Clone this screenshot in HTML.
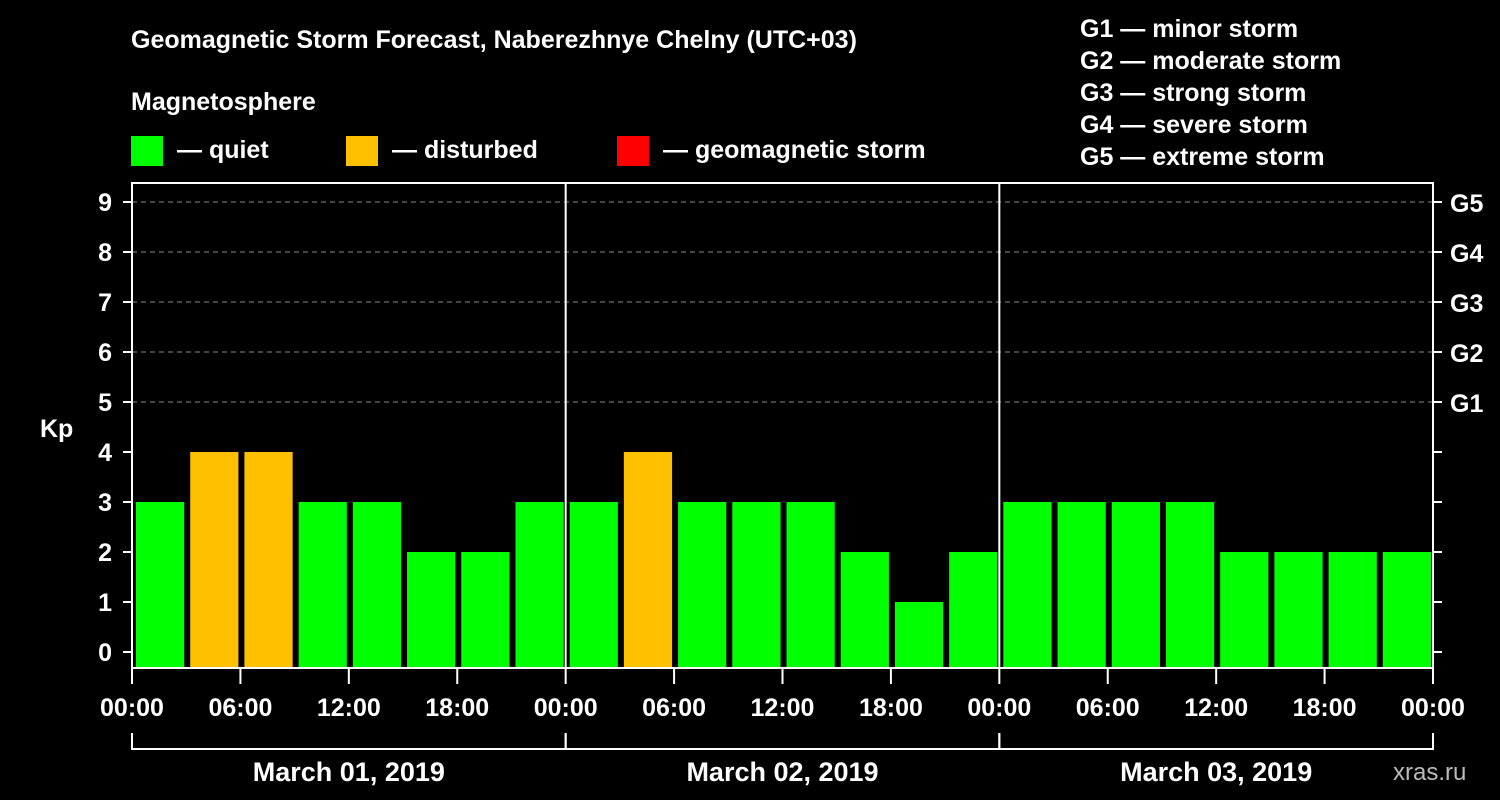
<!DOCTYPE html>
<html><head><meta charset="utf-8"><style>
html,body{margin:0;padding:0;background:#000;}
svg{display:block;font-family:"Liberation Sans",Arial,sans-serif;font-weight:bold;}
</style></head><body>
<svg id="chart" width="1500" height="800" viewBox="0 0 1500 800">
<rect width="1500" height="800" fill="#000"/>
<g fill="#fff" font-size="25">
<text x="131" y="48">Geomagnetic Storm Forecast, Naberezhnye Chelny (UTC+03)</text>
<text x="131" y="110">Magnetosphere</text>
<rect x="131" y="136" width="32" height="30" fill="#00ff00"/>
<text x="177" y="158">— quiet</text>
<rect x="346" y="136" width="32" height="30" fill="#ffc000"/>
<text x="392" y="158">— disturbed</text>
<rect x="617" y="136" width="32" height="30" fill="#ff0000"/>
<text x="663" y="158">— geomagnetic storm</text>
<text x="1080" y="37">G1 — minor storm</text>
<text x="1080" y="69">G2 — moderate storm</text>
<text x="1080" y="101">G3 — strong storm</text>
<text x="1080" y="133">G4 — severe storm</text>
<text x="1080" y="165">G5 — extreme storm</text>
<text x="40" y="437">Kp</text>
<text x="1393" y="780" fill="#bbb" font-weight="normal" font-size="24">xras.ru</text>
</g>
<g id="grid"></g><g id="bars"></g><g id="axes"></g>
</svg>
<script>
const days = ["March 01, 2019","March 02, 2019","March 03, 2019"];
const kpDay1 = [3,4,4,3,3,2,2,3];
const kpDay2 = [3,4,3,3,3,2,1,2];
const kpDay3 = [3,3,3,3,2,2,2,2];
const hourLabels = ["00:00","06:00","12:00","18:00"];
const yTicks = [0,1,2,3,4,5,6,7,8,9];
const gLabels = ["G1","G2","G3","G4","G5"];

const NS="http://www.w3.org/2000/svg";
const X0=132, X1=1433, TOP=183, BOT=668;
const slot=(X1-X0)/24;
const xS=i=>X0+i*slot;
const yK=k=>652-50*k;
function mk(tag,attrs,parent){const e=document.createElementNS(NS,tag);for(const k in attrs)e.setAttribute(k,attrs[k]);parent.appendChild(e);return e;}
const grid=document.getElementById('grid'),bars=document.getElementById('bars'),axes=document.getElementById('axes');

gLabels.forEach((g,i)=>{
  const y=yK(5+i);
  const l=mk('line',{x1:X0,x2:X1,y1:y,y2:y,stroke:'#888','stroke-width':1,'stroke-dasharray':'5,4'},grid);
  
  
  const t=mk('text',{x:1450,y:y+10,fill:'#fff','font-size':25},axes);
  t.textContent=g;
  
  
});

const all=kpDay1.concat(kpDay2,kpDay3);
all.forEach((v,i)=>{
  const color=v>=5?'#ff0000':(v>=4?'#ffc000':'#00ff00');
  const r=mk('rect',{x:xS(i)+4,y:yK(v),width:slot-6,height:BOT-yK(v),fill:color},bars);
  
  
});

const frame=mk('rect',{x:X0,y:TOP,width:X1-X0,height:BOT-TOP,fill:'none',stroke:'#fff','stroke-width':2},axes);



yTicks.forEach(k=>{
  const y=yK(k);
  const a=mk('line',{x1:X0-9,x2:X0,y1:y,y2:y,stroke:'#fff','stroke-width':2},axes);
  
  
  const b=mk('line',{x1:X1,x2:X1+9,y1:y,y2:y,stroke:'#fff','stroke-width':2},axes);
  
  
  const t=mk('text',{x:X0-20,y:y+9,fill:'#fff','font-size':25,'text-anchor':'end'},axes);
  t.textContent=k;
  
  
});

days.forEach((d,di)=>{
  const xa=xS(di*8), xb=xS(di*8+8);
  if(di>0){
    const s=mk('line',{x1:xa,x2:xa,y1:TOP,y2:BOT,stroke:'#fff','stroke-width':2},axes);
    
    
  }
  const br=mk('path',{d:`M${xa} 733 V749 H${xb} V733`,fill:'none',stroke:'#fff','stroke-width':2},axes);
  
  
  const t=mk('text',{x:(xa+xb)/2,y:781,fill:'#fff','font-size':27,'text-anchor':'middle'},axes);
  t.textContent=d;
  
  
  hourLabels.forEach((h,hi)=>{
    const x=xS(di*8+hi*2);
    const tk=mk('line',{x1:x,x2:x,y1:BOT,y2:BOT+16,stroke:'#fff','stroke-width':2},axes);
    
    
    const tl=mk('text',{x:x,y:716,fill:'#fff','font-size':25,'text-anchor':'middle'},axes);
    tl.textContent=h;
    
    
  });
});
const lt=mk('line',{x1:X1,x2:X1,y1:BOT,y2:BOT+16,stroke:'#fff','stroke-width':2},axes);


const ll=mk('text',{x:X1,y:716,fill:'#fff','font-size':25,'text-anchor':'middle'},axes);
ll.textContent=hourLabels[0];


</script>
</body></html>
